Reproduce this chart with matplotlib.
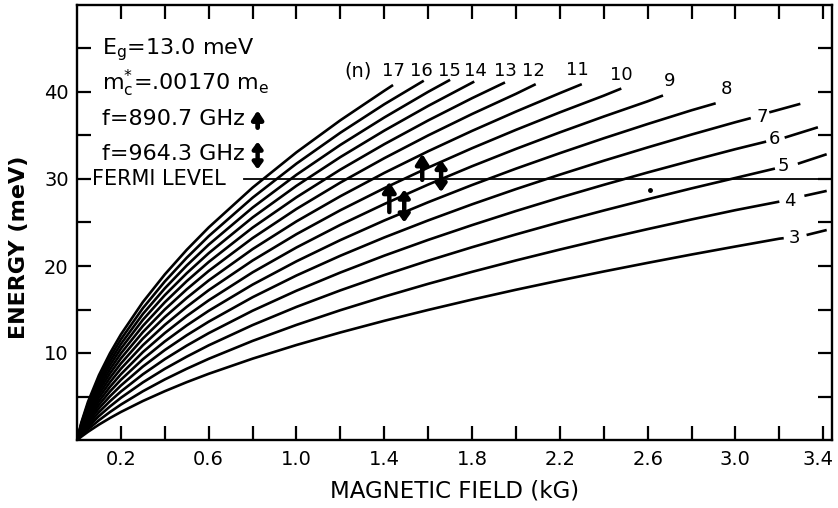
import matplotlib
matplotlib.use("Agg")
import matplotlib.pyplot as plt
import matplotlib.transforms as mtransforms

b_grid = [0, 0.02, 0.05, 0.1, 0.15, 0.2, 0.3, 0.4, 0.5, 0.6, 0.8, 1.0, 1.2,
          1.4, 1.6, 1.8, 2.0, 2.2, 2.4, 2.6, 2.8, 3.0, 3.2]

# energy (meV) of each Landau level n on the grid above
e_n3 = [0, 0.39, 0.94, 1.77, 2.52, 3.22, 4.48, 5.61, 6.65, 7.61, 9.35, 10.92, 12.36,
        13.70, 14.95, 16.14, 17.27, 18.34, 19.37, 20.36, 21.32, 22.24, 23.14]
e_n4 = [0, 0.51, 1.22, 2.27, 3.21, 4.07, 5.60, 6.96, 8.19, 9.33, 11.39, 13.23, 14.92,
        16.48, 17.95, 19.33, 20.64, 21.89, 23.09, 24.24, 25.35, 26.42]
e_n5 = [0, 0.64, 1.49, 2.75, 3.85, 4.85, 6.62, 8.18, 9.58, 10.88, 13.21, 15.30, 17.20,
        18.96, 20.61, 22.16, 23.63, 25.04, 26.38, 27.67, 28.92, 30.12]
e_n6 = [0, 0.75, 1.75, 3.19, 4.45, 5.57, 7.55, 9.29, 10.85, 12.28, 14.86, 17.16, 19.25,
        21.19, 23.00, 24.70, 26.32, 27.86, 29.33, 30.75, 32.11, 33.43]
e_n7 = [0, 0.87, 2.01, 3.63, 5.02, 6.26, 8.44, 10.34, 12.04, 13.60, 16.41, 18.91, 21.18,
        23.28, 25.24, 27.09, 28.84, 30.50, 32.10, 33.63, 35.11, 36.53]
e_n8 = [0, 0.99, 2.26, 4.04, 5.57, 6.92, 9.28, 11.33, 13.17, 14.85, 17.86, 20.54, 22.98,
        25.23, 27.33, 29.31, 31.19, 32.97, 34.68, 36.32, 37.90]
e_n9 = [0, 1.10, 2.51, 4.45, 6.10, 7.56, 10.10, 12.29, 14.26, 16.05, 19.27, 22.13, 24.73,
        27.12, 29.36, 31.47, 33.46, 35.36, 37.18, 38.93]
e_n10 = [0, 1.22, 2.75, 4.86, 6.63, 8.19, 10.89, 13.23, 15.31, 17.22, 20.63, 23.66, 26.41,
         28.94, 31.31, 33.54, 35.65, 37.66, 39.58]
e_n11 = [0, 1.34, 2.99, 5.25, 7.14, 8.79, 11.66, 14.13, 16.33, 18.34, 21.94, 25.13, 28.02,
         30.70, 33.19, 35.53, 37.75, 39.87]
e_n12 = [0, 1.45, 3.24, 5.64, 7.64, 9.38, 12.40, 15.00, 17.32, 19.43, 23.21, 26.56, 29.59,
         32.39, 35.01, 37.47, 39.79]
e_n13 = [0, 1.57, 3.47, 6.01, 8.11, 9.95, 13.11, 15.83, 18.26, 20.46, 24.41, 27.90, 31.08,
         34.00, 36.73, 39.29]
e_n14 = [0, 1.68, 3.69, 6.37, 8.58, 10.50, 13.81, 16.65, 19.17, 21.47, 25.58, 29.22, 32.52,
         35.56, 38.40]
e_n15 = [0, 1.79, 3.92, 6.72, 9.03, 11.03, 14.48, 17.43, 20.06, 22.45, 26.71, 30.49, 33.92,
         37.07, 40.02]
e_n16 = [0, 1.91, 4.15, 7.08, 9.49, 11.57, 15.15, 18.22, 20.95, 23.43, 27.85, 31.77, 35.32,
         38.59]
e_n17 = [0, 2.03, 4.38, 7.45, 9.96, 12.13, 15.85, 19.03, 21.86, 24.43, 29.01, 33.07, 36.75,
         40.14]

levels = [3, 4, 5, 6, 7, 8, 9, 10, 11, 12, 13, 14, 15, 16, 17]
e_levels = [e_n3, e_n4, e_n5, e_n6, e_n7, e_n8, e_n9, e_n10, e_n11, e_n12,
            e_n13, e_n14, e_n15, e_n16, e_n17]
# where each drawn curve stops (just under its label)
b_end = [3.22, 3.20, 3.18, 3.14, 3.07, 2.91, 2.67, 2.48, 2.30, 2.09, 1.95, 1.81, 1.70, 1.58, 1.44]
e_end = [23.2, 27.4, 31.2, 34.3, 37.0, 38.7, 39.6, 40.4, 40.9, 40.9, 41.1, 41.2, 41.4, 41.3, 40.8]

# level labels
label_b = [3.27, 3.25, 3.22, 3.18, 3.12, 2.96, 2.70, 2.48, 2.28, 2.08, 1.95, 1.815, 1.695, 1.57, 1.44]
label_e = [23.2, 27.5, 31.5, 34.6, 37.1, 40.3, 41.3, 42.0, 42.5, 42.4, 42.4, 42.4, 42.4, 42.4, 42.4]

# short pieces of the low levels to the right of their labels
tail_b0 = [3.33, 3.32, 3.29, 3.23, 3.16]
tail_b1 = [3.41, 3.41, 3.41, 3.37, 3.29]
tail_e0 = [23.6, 28.1, 31.8, 34.8, 37.7]
tail_e1 = [24.1, 28.6, 32.8, 35.9, 38.6]

fermi_level = 30.0
fermi_start = 0.76

# observed transitions: B, lower and upper energy, double headed (964.3 GHz)
arrow_b = [1.423, 1.491, 1.573, 1.659]
arrow_lo = [26.2, 25.0, 29.9, 28.5]
arrow_hi = [29.7, 28.8, 32.9, 32.2]
arrow_double = [False, True, False, True]

plt.rcParams['font.family'] = ['DejaVu Sans']
plt.rcParams['mathtext.default'] = 'regular'

fig = plt.figure(figsize=(8.38, 5.08), dpi=100)
ax = fig.add_axes([77 / 838, 68 / 508, 755 / 838, 435 / 508])

for n, e_vals, b1, e1 in zip(levels, e_levels, b_end, e_end):
    xs = b_grid[:len(e_vals)] + [b1]
    ys = e_vals + [e1]
    ax.plot(xs, ys, color='black', lw=1.9, solid_capstyle='butt')

for n, bx, ey in zip(levels, label_b, label_e):
    ax.text(bx, ey, str(n), ha='center', va='center', fontsize=13)
ax.text(1.28, 42.4, '(n)', ha='center', va='center', fontsize=14)

for b0, b1, e0, e1 in zip(tail_b0, tail_b1, tail_e0, tail_e1):
    ax.plot([b0, b1], [e0, e1], color='black', lw=1.9)

ax.plot([fermi_start, 3.44], [fermi_level, fermi_level], color='black', lw=1.3)
ax.text(0.07, fermi_level, 'FERMI LEVEL', ha='left', va='center', fontsize=15)

for bx, lo, hi, dbl in zip(arrow_b, arrow_lo, arrow_hi, arrow_double):
    style = ('<|-|>,head_length=0.45,head_width=0.32' if dbl
             else '-|>,head_length=0.6,head_width=0.38')
    ax.annotate('', xy=(bx, hi), xytext=(bx, lo),
                arrowprops=dict(arrowstyle=style, lw=3.2, color='black',
                                shrinkA=0, shrinkB=0))

ax.plot([2.61], [28.7], marker='o', ms=2.5, color='black')

# parameter block
ax.text(0.114, 44.3, r'E$_{g}$=13.0 meV', ha='left', va='baseline', fontsize=16)
ax.text(0.114, 40.2, r'm$_{c}^{*}$=.00170 m$_{e}$', ha='left', va='baseline', fontsize=16)
ax.text(0.114, 36.2, 'f=890.7 GHz', ha='left', va='baseline', fontsize=16)
ax.text(0.114, 32.2, 'f=964.3 GHz', ha='left', va='baseline', fontsize=16)
ax.annotate('', xy=(0.823, 37.9), xytext=(0.823, 35.9),
            arrowprops=dict(arrowstyle='-|>,head_length=0.5,head_width=0.32', lw=3.4,
                            color='black', shrinkA=0, shrinkB=0))
ax.annotate('', xy=(0.823, 34.3), xytext=(0.823, 31.1),
            arrowprops=dict(arrowstyle='<|-|>,head_length=0.38,head_width=0.28', lw=3.2,
                            color='black', shrinkA=0, shrinkB=0))

ax.set_xlim(0, 3.44)
ax.set_ylim(0, 50)
ax.set_xticks([0.2, 0.6, 1.0, 1.4, 1.8, 2.2, 2.6, 3.0, 3.4])
ax.set_xticklabels(['0.2', '0.6', '1.0', '1.4', '1.8', '2.2', '2.6', '3.0', '3.4'])
ax.set_xticks([0.4, 0.8, 1.2, 1.6, 2.0, 2.4, 2.8, 3.2], minor=True)
ax.set_yticks([10, 20, 30, 40])
ax.set_yticks([5, 15, 25, 35, 45], minor=True)
ax.tick_params(which='both', direction='in', length=10, width=1.6,
               top=True, right=True, labelsize=14)
ax.tick_params(axis='x', pad=7)
ax.tick_params(axis='y', pad=6)
for sp in ax.spines.values():
    sp.set_linewidth(1.7)
# the last field label sits tight against the right edge
last = ax.get_xticklabels()[-1]
last.set_transform(last.get_transform() + mtransforms.ScaledTranslation(-5 / 100, 0, fig.dpi_scale_trans))

fig.text(455 / 838, 1 - 491 / 508, 'MAGNETIC FIELD (kG)', ha='center', va='center', fontsize=16.5)
fig.text(19 / 838, 1 - 247 / 508, 'ENERGY (meV)', ha='center', va='center',
         rotation=90, fontsize=16, fontweight='bold')

fig.savefig('out.png', dpi=100)
